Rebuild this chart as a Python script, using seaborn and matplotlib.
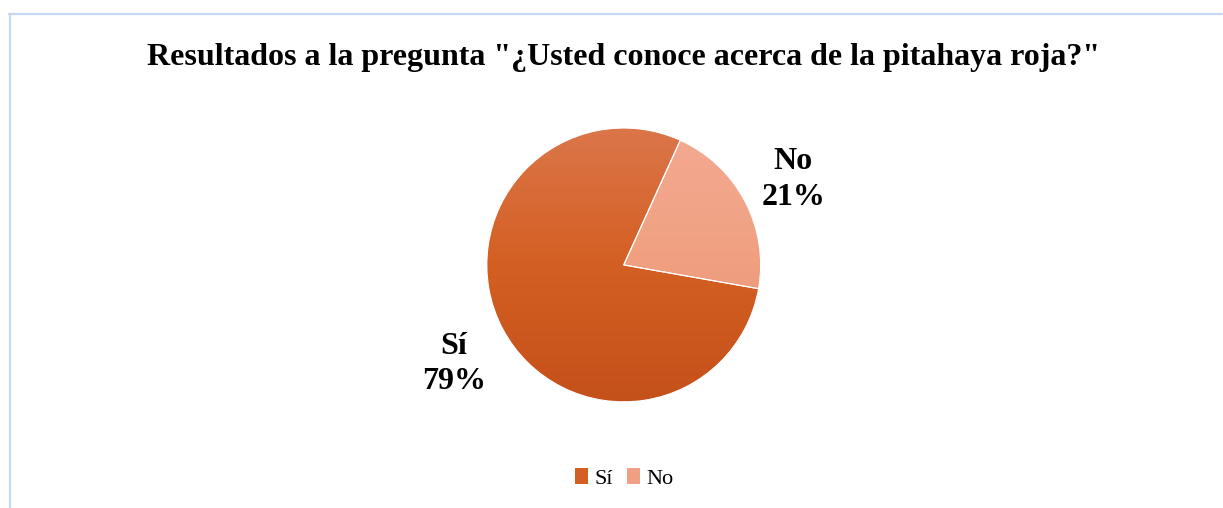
import numpy as np
import matplotlib
matplotlib.use("Agg")
import matplotlib.pyplot as plt
from matplotlib.colors import LinearSegmentedColormap
from matplotlib.patches import Patch
from matplotlib.lines import Line2D
from matplotlib.transforms import offset_copy
import seaborn as sns

categories = ["Sí", "No"]
values = [79, 21]
title = "Resultados a la pregunta \"¿Usted conoce acerca de la pitahaya roja?\""

sns.set_theme(style="white")
plt.rcParams["font.family"] = ["Liberation Serif", "DejaVu Serif"]
plt.rcParams["text.color"] = "black"

fig = plt.figure(figsize=(12.23, 5.08), dpi=100)
ax = fig.add_axes([0.398, 0.209, 0.224, 0.539])

base_colors = ["#D45F22", "#F0A080"]
grad_stops = [["#DB774C", "#D45F22", "#C4501A"],
              ["#F3AA93", "#F0A080", "#DF886E"]]

total = sum(values)
labels = [f"{c}\n{round(v / total * 100)}%" for c, v in zip(categories, values)]

wedges, texts = ax.pie(values, colors=base_colors, startangle=-10, counterclock=False,
                       labels=labels, labeldistance=1.4,
                       wedgeprops=dict(edgecolor="white", linewidth=0.8),
                       textprops=dict(fontsize=23, fontweight="bold", color="black",
                                      linespacing=1.3))
# small vertical nudges (points) to match the reference label placement
nudges = [-7, -3]
for t, dy in zip(texts, nudges):
    t.set_ha("center")
    t.set_va("center")
    t.set_transform(offset_copy(ax.transData, fig=fig, x=0, y=dy, units="points"))

# gradient fill for each wedge (lighter at top, darker at bottom)
ys = np.linspace(0, 1, 256).reshape(-1, 1)
for w, stops in zip(wedges, grad_stops):
    cmap = LinearSegmentedColormap.from_list("g", stops)
    grad = np.repeat(ys, 2, axis=1)
    im = ax.imshow(grad, cmap=cmap, extent=[-1.05, 1.05, -1.05, 1.05], aspect="auto",
                   origin="upper", zorder=w.get_zorder() - 0.1, interpolation="bilinear")
    im.set_clip_path(w)
    w.set_facecolor("none")

ax.set_xlim(-1, 1)
ax.set_ylim(-1, 1)
ax.set_aspect("equal")
ax.axis("off")

fig.text(0.5095, 0.886, title, ha="center", va="center", fontsize=23, fontweight="bold",
         color="black")

handles = [Patch(facecolor=c, edgecolor="none") for c in base_colors]
leg = fig.legend(handles, categories, loc="center", bbox_to_anchor=(0.5105, 0.058), ncol=2,
                 frameon=False, fontsize=16, handlelength=0.6, handleheight=0.7,
                 handletextpad=0.3, columnspacing=0.6)
for t in leg.get_texts():
    t.set_color("black")

# chart frame (light blue)
H = 508.0
W = 1223.0
fig.add_artist(Line2D([9 / W, 1222 / W], [1 - 14 / H, 1 - 14 / H], color="#C6D9F1", lw=1.6,
                      transform=fig.transFigure))
fig.add_artist(Line2D([9.5 / W, 9.5 / W], [1 - 14 / H, 0], color="#C6D9F1", lw=1.6,
                      transform=fig.transFigure))

fig.savefig("out.png", dpi=100)
